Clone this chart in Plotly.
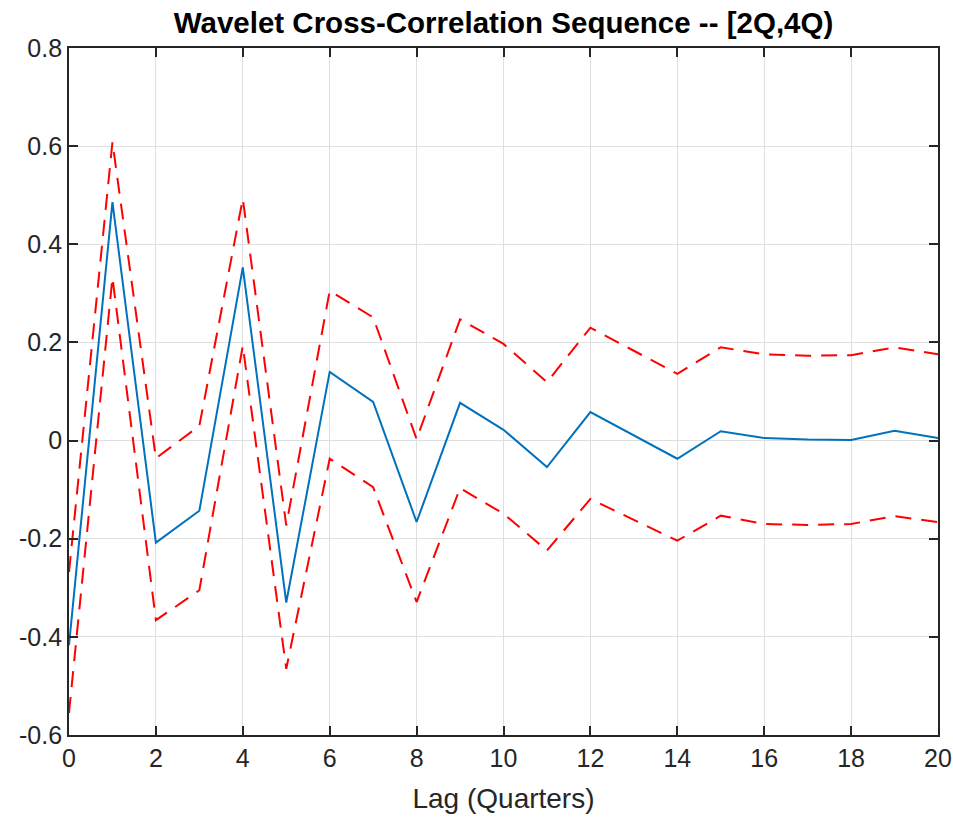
import plotly.graph_objects as go

lags = list(range(21))
wcc = [-0.417, 0.486, -0.208, -0.143, 0.353, -0.330, 0.140, 0.079, -0.166, 0.077,
       0.022, -0.054, 0.058, 0.010, -0.037, 0.019, 0.005, 0.002, 0.001, 0.020, 0.005]
upper = [-0.268, 0.608, -0.036, 0.030, 0.493, -0.173, 0.305, 0.251, 0.003, 0.247,
         0.197, 0.119, 0.230, 0.183, 0.136, 0.190, 0.176, 0.173, 0.174, 0.190, 0.176]
lower = [-0.555, 0.332, -0.366, -0.305, 0.193, -0.465, -0.037, -0.095, -0.329, -0.097,
         -0.149, -0.224, -0.119, -0.161, -0.204, -0.153, -0.170, -0.172, -0.170, -0.154, -0.166]

y_ticks = [0.8, 0.6, 0.4, 0.2, 0, -0.2, -0.4, -0.6]
y_tick_text = ["0.8", "0.6", "0.4", "0.2", "0", "-0.2", "-0.4", "-0.6"]
x_ticks = [0, 2, 4, 6, 8, 10, 12, 14, 16, 18, 20]

FONT = "Liberation Sans, Arial, Helvetica, sans-serif"

fig = go.Figure()
fig.add_trace(go.Scatter(x=lags, y=wcc, mode="lines",
                         line=dict(color="#0072BD", width=2), showlegend=False))
fig.add_trace(go.Scatter(x=lags, y=upper, mode="lines",
                         line=dict(color="#FF0000", width=2, dash="16px,10px"), showlegend=False))
fig.add_trace(go.Scatter(x=lags, y=lower, mode="lines",
                         line=dict(color="#FF0000", width=2, dash="16px,10px"), showlegend=False))

axis_common = dict(
    showline=True, linecolor="#262626", linewidth=1.8, mirror="ticks",
    ticks="inside", ticklen=9, tickcolor="#262626", tickwidth=1.5,
    showgrid=True, gridcolor="#dfdfdf", gridwidth=1.2, zeroline=False,
    automargin=False,
    tickfont=dict(family=FONT, size=25, color="#262626"),
)

fig.update_xaxes(range=[0, 20], tickvals=x_ticks,
                 title=dict(text="Lag (Quarters)", standoff=17,
                            font=dict(family=FONT, size=28, color="#262626")),
                 **axis_common)
fig.update_yaxes(range=[-0.6, 0.8], tickvals=y_ticks, ticktext=y_tick_text, **axis_common)

fig.update_layout(
    width=953, height=821,
    margin=dict(l=69, r=15, t=48, b=86),
    paper_bgcolor="white", plot_bgcolor="white",
    title=dict(text="<b>Wavelet Cross-Correlation Sequence -- [2Q,4Q)</b>",
               x=0.5, xanchor="center", xref="paper", y=0.972, yanchor="middle",
               font=dict(family=FONT, size=29.5, color="#000000")),
)

fig.write_html(
    "out.html",
    config={"displayModeBar": False},
    post_script="document.documentElement.style.overflow='hidden';"
                "document.body.style.margin='0';document.body.style.overflow='hidden';",
)
